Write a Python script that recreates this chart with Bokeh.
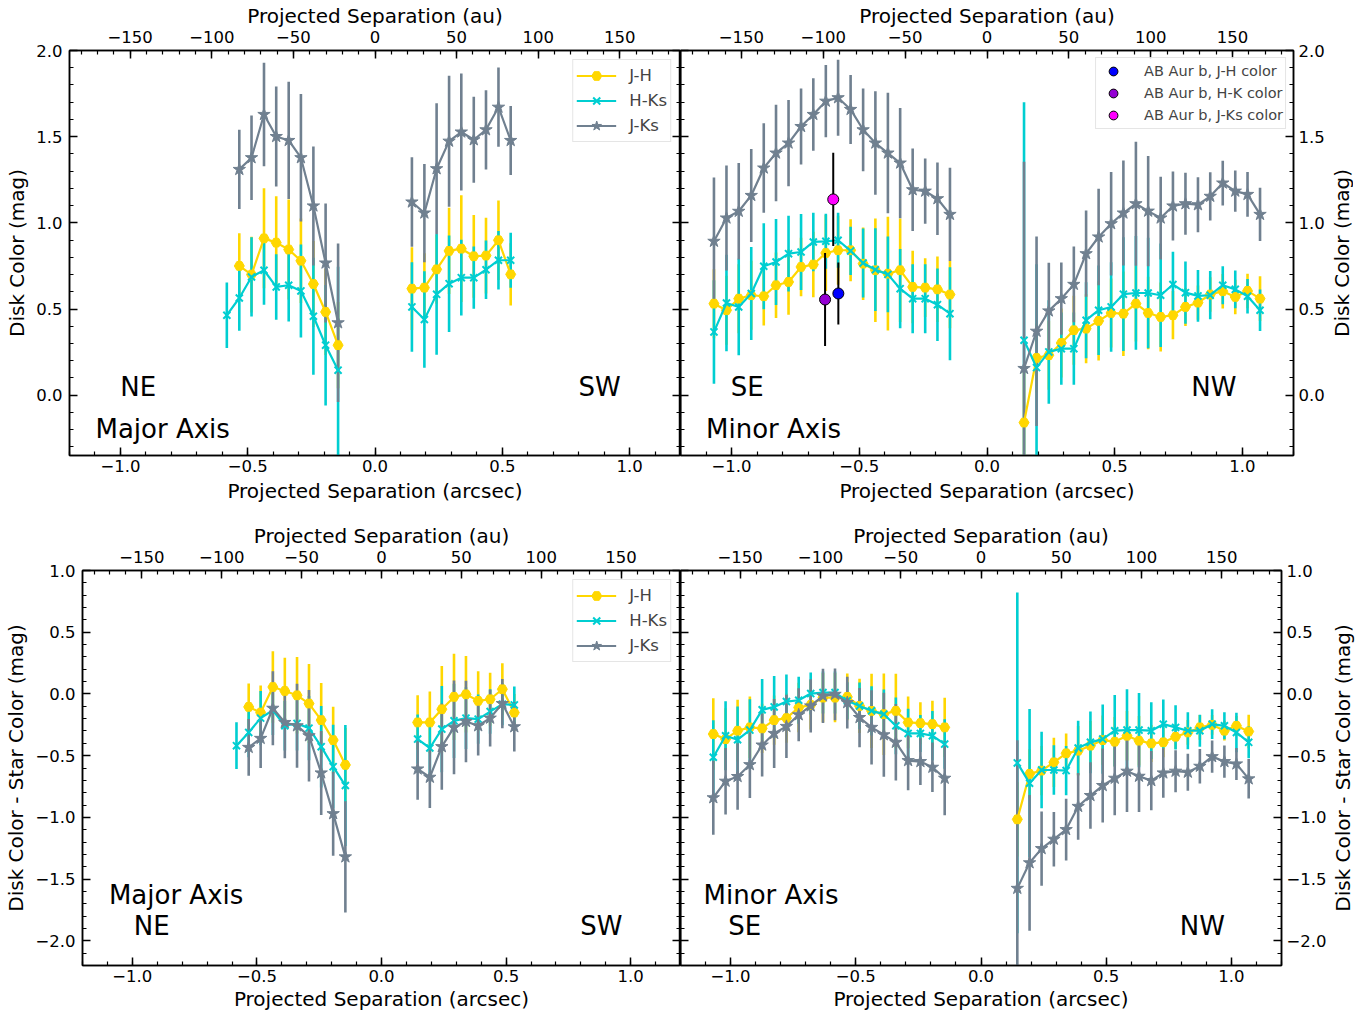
import math
from bokeh.plotting import figure
from bokeh.models import (Range1d, LinearAxis, SingleIntervalTicker, FixedTicker, CustomJSTickFormatter,
                          ColumnDataSource, Label, Legend, LegendItem)
from bokeh.layouts import column, row
from bokeh.embed import file_html
from bokeh.resources import INLINE

FONT = "DejaVu Sans"
AU_PER_ARCSEC = 156.0
C_JH = "#FFD700"
C_HK = "#00CED1"
C_JK = "#708090"

# ---------------- positions (arcsec) ----------------
MAJ_NE_X = [-0.582, -0.533, -0.485, -0.436, -0.388, -0.339, -0.291, -0.242, -0.194, -0.145]
MAJ_SW_X = [0.145, 0.194, 0.242, 0.291, 0.339, 0.388, 0.436, 0.485, 0.533]
MIN_SE_X = [-1.069, -1.020, -0.972, -0.923, -0.874, -0.826, -0.777, -0.728, -0.680, -0.631,
            -0.583, -0.534, -0.485, -0.437, -0.388, -0.340, -0.291, -0.242, -0.194, -0.145]
MIN_NW_X = [0.145, 0.194, 0.242, 0.291, 0.340, 0.388, 0.437, 0.486, 0.534, 0.583,
            0.631, 0.680, 0.728, 0.777, 0.826, 0.874, 0.923, 0.972, 1.020, 1.069]

# ---------------- top-left: disk color, major axis ----------------
TL_JH_NE = [0.75, 0.70, 0.91, 0.885, 0.845, 0.78, 0.645, 0.483, 0.29]
TL_JH_NE_ERR = [0.19, 0.22, 0.29, 0.27, 0.29, 0.245, 0.25, 0.25, 0.25]
TL_HK_NE = [0.464, 0.564, 0.686, 0.725, 0.628, 0.638, 0.605, 0.458, 0.29, 0.145]
TL_HK_NE_ERR = [0.19, 0.19, 0.23, 0.2, 0.19, 0.21, 0.27, 0.34, 0.35, 0.6]
TL_JK_NE = [1.31, 1.378, 1.629, 1.501, 1.478, 1.378, 1.098, 0.767, 0.42]
TL_JK_NE_ERR = [0.23, 0.245, 0.30, 0.29, 0.34, 0.37, 0.345, 0.345, 0.46]
TL_JH_SW = [0.618, 0.624, 0.73, 0.837, 0.85, 0.806, 0.81, 0.899, 0.701]
TL_JH_SW_ERR = [0.24, 0.2, 0.2, 0.25, 0.31, 0.24, 0.22, 0.23, 0.18]
TL_HK_SW = [0.512, 0.439, 0.585, 0.647, 0.682, 0.682, 0.728, 0.783, 0.783]
TL_HK_SW_ERR = [0.26, 0.28, 0.35, 0.28, 0.22, 0.18, 0.17, 0.17, 0.16]
TL_JK_SW = [1.121, 1.057, 1.314, 1.474, 1.527, 1.482, 1.54, 1.671, 1.478]
TL_JK_SW_ERR = [0.26, 0.285, 0.38, 0.38, 0.34, 0.25, 0.23, 0.23, 0.2]

# ---------------- top-right: disk color, minor axis ----------------
TR_JH_SE = [0.531, 0.493, 0.56, 0.58, 0.574, 0.638, 0.657, 0.744, 0.758, 0.825,
            0.841, 0.841, 0.763, 0.725, 0.705, 0.725, 0.628, 0.624, 0.614, 0.584]
TR_JH_SE_ERR = [0.2, 0.2, 0.2, 0.2, 0.17, 0.19, 0.19, 0.17, 0.19, 0.22,
                0.2, 0.18, 0.21, 0.3, 0.33, 0.3, 0.21, 0.17, 0.19, 0.195]
TR_HK_SE = [0.367, 0.535, 0.512, 0.59, 0.748, 0.773, 0.821, 0.831, 0.889, 0.893,
            0.899, 0.837, 0.767, 0.728, 0.701, 0.618, 0.56, 0.56, 0.525, 0.473]
TR_HK_SE_ERR = [0.3, 0.28, 0.28, 0.27, 0.25, 0.25, 0.22, 0.22, 0.17, 0.16,
                0.16, 0.14, 0.2, 0.24, 0.22, 0.23, 0.2, 0.2, 0.21, 0.27]
TR_JK_SE = [0.893, 1.028, 1.067, 1.159, 1.318, 1.405, 1.463, 1.559, 1.629, 1.706,
            1.726, 1.658, 1.54, 1.463, 1.405, 1.347, 1.192, 1.184, 1.14, 1.049]
TR_JK_SE_ERR = [0.37, 0.305, 0.28, 0.27, 0.26, 0.28, 0.25, 0.22, 0.21, 0.21,
                0.22, 0.2, 0.24, 0.3, 0.35, 0.32, 0.24, 0.19, 0.21, 0.27]
TR_JH_NW = [-0.159, 0.216, 0.232, 0.303, 0.377, 0.386, 0.431, 0.477, 0.473, 0.531,
            0.477, 0.454, 0.464, 0.512, 0.537, 0.584, 0.603, 0.57, 0.605, 0.56]
TR_JH_NW_ERR = [0.3, 0.2, 0.2, 0.2, 0.2, 0.2, 0.23, 0.2, 0.245, 0.22,
                0.21, 0.2, 0.14, 0.11, 0.1, 0.1, 0.1, 0.1, 0.1, 0.13]
TR_HK_NW = [0.319, 0.16, 0.251, 0.27, 0.27, 0.435, 0.493, 0.512, 0.586, 0.593,
            0.593, 0.58, 0.642, 0.595, 0.576, 0.58, 0.638, 0.614, 0.574, 0.493]
TR_HK_NW_ERR = [1.38, 0.6, 0.3, 0.21, 0.21, 0.22, 0.26, 0.26, 0.33, 0.33,
                0.32, 0.3, 0.19, 0.18, 0.15, 0.14, 0.11, 0.11, 0.1, 0.12]
TR_JK_NW = [0.155, 0.371, 0.489, 0.56, 0.643, 0.821, 0.918, 0.995, 1.057, 1.111,
            1.068, 1.028, 1.098, 1.111, 1.105, 1.154, 1.231, 1.184, 1.165, 1.049]
TR_JK_NW_ERR = [1.2, 0.55, 0.28, 0.21, 0.22, 0.25, 0.28, 0.3, 0.305, 0.36,
                0.32, 0.24, 0.2, 0.18, 0.16, 0.14, 0.13, 0.12, 0.13, 0.155]

# AB Aur b colors
ABB_LABELS = ["AB Aur b, J-H color", "AB Aur b, H-K color", "AB Aur b, J-Ks color"]
ABB_COLORS = ["#0000FF", "#9400D3", "#FF00FF"]
ABB_X = [-0.582, -0.634, -0.602]
ABB_Y = [0.59, 0.555, 1.136]
ABB_ERR = [0.18, 0.27, 0.27]

# ---------------- bottom-left: disk - star color, major axis ----------------
BL_JH_NE = [-0.105, -0.151, 0.056, 0.024, -0.011, -0.078, -0.212, -0.374, -0.575]
BL_JH_NE_ERR = [0.19, 0.22, 0.29, 0.27, 0.31, 0.32, 0.30, 0.27, 0.3]
BL_HK_NE = [-0.419, -0.312, -0.196, -0.132, -0.258, -0.239, -0.277, -0.427, -0.589, -0.742]
BL_HK_NE_ERR = [0.19, 0.2, 0.22, 0.2, 0.2, 0.22, 0.26, 0.33, 0.34, 0.49]
BL_JK_NE = [-0.433, -0.36, -0.116, -0.231, -0.258, -0.339, -0.64, -0.97, -1.32]
BL_JK_NE_ERR = [0.23, 0.24, 0.3, 0.29, 0.34, 0.37, 0.34, 0.34, 0.45]
BL_JH_SW = [-0.231, -0.231, -0.124, -0.024, -0.003, -0.056, -0.043, 0.038, -0.151]
BL_JH_SW_ERR = [0.22, 0.25, 0.35, 0.35, 0.31, 0.24, 0.215, 0.21, 0.15]
BL_HK_SW = [-0.366, -0.438, -0.285, -0.218, -0.196, -0.204, -0.143, -0.083, -0.089]
BL_HK_SW_ERR = [0.2, 0.23, 0.35, 0.3, 0.25, 0.2, 0.18, 0.17, 0.15]
BL_JK_SW = [-0.608, -0.675, -0.427, -0.271, -0.223, -0.258, -0.196, -0.078, -0.266]
BL_JK_SW_ERR = [0.25, 0.25, 0.35, 0.38, 0.33, 0.24, 0.23, 0.2, 0.2]

# ---------------- bottom-right: disk - star color, minor axis ----------------
BR_JH_SE = [-0.325, -0.366, -0.298, -0.271, -0.279, -0.212, -0.196, -0.11, -0.089, -0.03,
            -0.03, -0.024, -0.097, -0.137, -0.164, -0.137, -0.231, -0.237, -0.245, -0.271]
BR_JH_SE_ERR = [0.29, 0.25, 0.25, 0.25, 0.2, 0.2, 0.2, 0.2, 0.2, 0.2,
                0.2, 0.19, 0.22, 0.3, 0.33, 0.3, 0.21, 0.17, 0.19, 0.24]
BR_HK_SE = [-0.513, -0.339, -0.371, -0.293, -0.129, -0.105, -0.062, -0.051, 0.003, 0.011,
            0.011, -0.056, -0.097, -0.137, -0.164, -0.258, -0.32, -0.32, -0.339, -0.406]
BR_HK_SE_ERR = [0.3, 0.28, 0.27, 0.25, 0.25, 0.25, 0.22, 0.19, 0.17, 0.17,
                0.17, 0.15, 0.19, 0.2, 0.2, 0.23, 0.2, 0.15, 0.2, 0.2]
BR_JK_SE = [-0.841, -0.707, -0.669, -0.573, -0.414, -0.32, -0.263, -0.169, -0.097, -0.016,
            -0.003, -0.07, -0.191, -0.271, -0.331, -0.392, -0.54, -0.548, -0.594, -0.683]
BR_JK_SE_ERR = [0.3, 0.27, 0.27, 0.27, 0.255, 0.28, 0.256, 0.215, 0.215, 0.22,
                0.21, 0.21, 0.24, 0.3, 0.34, 0.31, 0.24, 0.19, 0.2, 0.3]
BR_JH_NW = [-1.016, -0.648, -0.621, -0.554, -0.481, -0.46, -0.419, -0.374, -0.387, -0.339,
            -0.379, -0.401, -0.392, -0.347, -0.312, -0.271, -0.25, -0.298, -0.258, -0.304]
BR_JH_NW_ERR = [0.3, 0.2, 0.2, 0.2, 0.16, 0.2, 0.2, 0.2, 0.2, 0.2,
                0.2, 0.15, 0.12, 0.1, 0.1, 0.1, 0.08, 0.08, 0.08, 0.135]
BR_HK_NW = [-0.559, -0.723, -0.616, -0.616, -0.621, -0.438, -0.392, -0.366, -0.298, -0.293,
            -0.293, -0.298, -0.245, -0.271, -0.298, -0.298, -0.245, -0.258, -0.312, -0.392]
BR_HK_NW_ERR = [1.38, 0.6, 0.31, 0.2, 0.2, 0.22, 0.25, 0.28, 0.29, 0.33,
                0.3, 0.23, 0.2, 0.18, 0.15, 0.13, 0.12, 0.11, 0.16, 0.13]
BR_JK_NW = [-1.575, -1.368, -1.253, -1.177, -1.099, -0.911, -0.823, -0.742, -0.683, -0.626,
            -0.667, -0.702, -0.64, -0.626, -0.634, -0.586, -0.508, -0.548, -0.567, -0.688]
BR_JK_NW_ERR = [1.2, 0.55, 0.3, 0.22, 0.25, 0.27, 0.27, 0.3, 0.3, 0.33,
                0.29, 0.24, 0.2, 0.17, 0.15, 0.14, 0.13, 0.13, 0.13, 0.16]

fmt1 = CustomJSTickFormatter(code="""
if (Math.abs(tick) < 1e-9) { return '0.0'; }
return tick.toFixed(1).replace('-', '\\u2212');
""")
fmt0 = CustomJSTickFormatter(code="""
if (Math.abs(tick) < 1e-9) { return '0'; }
return tick.toFixed(0).replace('-', '\\u2212');
""")


def style_ticks(ax):
    ax.major_tick_in = 8
    ax.major_tick_out = 0
    ax.minor_tick_in = 4
    ax.minor_tick_out = 0
    ax.major_tick_line_width = 1.5
    ax.minor_tick_line_width = 1.2
    ax.major_tick_line_color = "black"
    ax.minor_tick_line_color = "black"
    ax.axis_line_color = "black"
    ax.axis_line_width = 1.5


def style_axis(ax, title, s1, s2):
    style_ticks(ax)
    ax.major_label_text_font = FONT
    ax.major_label_text_font_size = "16.5px"
    ax.major_label_text_color = "black"
    ax.major_label_standoff = s1
    if title:
        ax.axis_label = title
        ax.axis_label_text_font = FONT
        ax.axis_label_text_font_size = "20px"
        ax.axis_label_text_font_style = "normal"
        ax.axis_label_text_color = "black"
        ax.axis_label_standoff = s2


def inner_axes(p, side, lo, hi):
    """Unlabelled inward ticks on the shared inner edge (majors every 0.5, minors every 0.1)."""
    k0 = int(math.ceil(lo * 10 - 1e-9))
    k1 = int(math.floor(hi * 10 + 1e-9))
    minors = [k / 10 for k in range(k0, k1 + 1) if k % 5 != 0]
    majors = [k / 10 for k in range(k0, k1 + 1) if k % 5 == 0]
    for ticks, ln, lw in ((majors, 8, 1.5), (minors, 4, 1.2)):
        ax = LinearAxis(ticker=FixedTicker(ticks=[], minor_ticks=ticks))
        style_ticks(ax)
        ax.minor_tick_in = ln
        ax.minor_tick_line_width = lw
        ax.major_label_standoff = 0
        ax.axis_label_standoff = 0
        p.add_layout(ax, side)


def make_panel(width, height, yr, borders, ylabel, yside, xlab_standoff):
    l, r, t, b = borders
    p = figure(width=width, height=height, x_range=Range1d(-1.2, 1.2), y_range=Range1d(*yr),
               output_backend="svg", toolbar_location=None,
               x_axis_location=None, y_axis_location=None,
               min_border_left=l, min_border_right=r, min_border_top=t, min_border_bottom=b)
    p.extra_x_ranges = {"au": Range1d(-1.2 * AU_PER_ARCSEC, 1.2 * AU_PER_ARCSEC)}
    p.outline_line_color = "black"
    p.outline_line_width = 1.5
    p.grid.visible = False
    bottom = LinearAxis(ticker=SingleIntervalTicker(interval=0.5, num_minor_ticks=5), formatter=fmt1)
    style_axis(bottom, "Projected Separation (arcsec)", 4, xlab_standoff)
    p.add_layout(bottom, "below")
    top = LinearAxis(x_range_name="au", ticker=SingleIntervalTicker(interval=50, num_minor_ticks=5),
                     formatter=fmt0)
    style_axis(top, "Projected Separation (au)", 8, 0)
    p.add_layout(top, "above")
    lab = LinearAxis(ticker=SingleIntervalTicker(interval=0.5, num_minor_ticks=5), formatter=fmt1)
    if yside == "left":
        style_axis(lab, ylabel, 7, 4)
        p.add_layout(lab, "left")
        inner_axes(p, "right", yr[0], yr[1])
    else:
        style_axis(lab, None, 5, 0)
        p.add_layout(lab, "right")
        inner_axes(p, "left", yr[0], yr[1])
    return p


def side_title(text, width, height, y_offset):
    """Narrow strip holding a right-hand axis title that reads bottom-to-top."""
    t = figure(width=width, height=height, x_range=Range1d(0, 1), y_range=Range1d(0, 1),
               output_backend="svg", toolbar_location=None,
               x_axis_location=None, y_axis_location=None, min_border=0)
    t.outline_line_color = None
    t.grid.visible = False
    t.add_layout(Label(x=0.5, y=0.5, y_offset=y_offset, text=text, angle=math.pi / 2,
                       text_font=FONT, text_font_size="20px", text_align="center",
                       text_baseline="middle", text_color="black"))
    return t


MARKERS = {"jh": ("hex", 10, C_JH), "hk": ("x", 10, C_HK), "jk": ("star", 13, C_JK)}


def draw_group(p, groups):
    """groups: list of (key, x, y, err); draws all bars first, then lines and markers."""
    for key, x, y, err in groups:
        color = MARKERS[key][2]
        src = ColumnDataSource(dict(x=x, lo=[a - e for a, e in zip(y, err)],
                                    hi=[a + e for a, e in zip(y, err)]))
        p.segment(x0="x", y0="lo", x1="x", y1="hi", source=src, line_color=color, line_width=2.6)
    rends = {}
    for key, x, y, err in groups:
        marker, size, color = MARKERS[key]
        src = ColumnDataSource(dict(x=x, y=y))
        lr = p.line("x", "y", source=src, line_color=color, line_width=2.2)
        sr = p.scatter("x", "y", source=src, marker=marker, size=size, fill_color=color,
                       line_color=color, line_width=2 if marker == "x" else 1)
        rends.setdefault(key, (lr, sr))
    return rends


def add_text(p, txt, x, y, align="center"):
    p.add_layout(Label(x=x, y=y, text=txt, text_font=FONT, text_font_size="26px",
                       text_align=align, text_baseline="middle", text_color="black"))


def series_legend(p, rends):
    items = [LegendItem(label="J-H", renderers=list(rends["jh"])),
             LegendItem(label="H-Ks", renderers=list(rends["hk"])),
             LegendItem(label="J-Ks", renderers=list(rends["jk"]))]
    lg = Legend(items=items, location="top_right", margin=9, padding=3, spacing=0,
                glyph_width=40, glyph_height=25, label_height=25, label_standoff=13,
                label_text_font=FONT, label_text_font_size="16.5px",
                border_line_color="#cccccc", border_line_width=1,
                background_fill_alpha=0.8)
    p.add_layout(lg)


# ---------------- top row ----------------
p1 = make_panel(680, 506, (-0.35, 2.0), (69, 0, 50, 51), "Disk Color (mag)", "left", 4)
r1 = draw_group(p1, [("jh", MAJ_NE_X[1:], TL_JH_NE, TL_JH_NE_ERR),
                     ("jh", MAJ_SW_X, TL_JH_SW, TL_JH_SW_ERR),
                     ("hk", MAJ_NE_X, TL_HK_NE, TL_HK_NE_ERR),
                     ("hk", MAJ_SW_X, TL_HK_SW, TL_HK_SW_ERR),
                     ("jk", MAJ_NE_X[1:], TL_JK_NE, TL_JK_NE_ERR),
                     ("jk", MAJ_SW_X, TL_JK_SW, TL_JK_SW_ERR)])
series_legend(p1, r1)
add_text(p1, "NE", -0.93, 0.05)
add_text(p1, "SW", 0.882, 0.05)
add_text(p1, "Major Axis", -1.098, -0.197, "left")

p2 = make_panel(649, 506, (-0.35, 2.0), (0, 36, 50, 51), "Disk Color (mag)", "right", 4)
draw_group(p2, [("jh", MIN_SE_X, TR_JH_SE, TR_JH_SE_ERR),
                ("jh", MIN_NW_X, TR_JH_NW, TR_JH_NW_ERR),
                ("hk", MIN_SE_X, TR_HK_SE, TR_HK_SE_ERR),
                ("hk", MIN_NW_X, TR_HK_NW, TR_HK_NW_ERR),
                ("jk", MIN_SE_X, TR_JK_SE, TR_JK_SE_ERR),
                ("jk", MIN_NW_X, TR_JK_NW, TR_JK_NW_ERR)])
abb_items = []
for i in range(len(ABB_X)):
    src = ColumnDataSource(dict(x=[ABB_X[i]], y=[ABB_Y[i]],
                                lo=[ABB_Y[i] - ABB_ERR[i]], hi=[ABB_Y[i] + ABB_ERR[i]]))
    p2.segment(x0="x", y0="lo", x1="x", y1="hi", source=src, line_color="black", line_width=2)
    sr = p2.scatter("x", "y", source=src, marker="circle", size=11, fill_color=ABB_COLORS[i],
                    line_color="black", line_width=1)
    abb_items.append(LegendItem(label=ABB_LABELS[i], renderers=[sr]))
lg2 = Legend(items=abb_items, location="top_right", margin=7, padding=2, spacing=0,
             glyph_width=30, glyph_height=22, label_height=22, label_standoff=16,
             label_text_font=FONT, label_text_font_size="14.5px",
             border_line_color="#cccccc", border_line_width=1, background_fill_alpha=0.8)
p2.add_layout(lg2)
add_text(p2, "SE", -0.939, 0.05)
add_text(p2, "NW", 0.888, 0.05)
add_text(p2, "Minor Axis", -1.100, -0.197, "left")
t2 = side_title("Disk Color (mag)", 24, 506, 0)

# ---------------- bottom row ----------------
p3 = make_panel(680, 508, (-2.2, 1.0), (82, 0, 64, 49), "Disk Color - Star Color (mag)", "left", 2)
r3 = draw_group(p3, [("jh", MAJ_NE_X[1:], BL_JH_NE, BL_JH_NE_ERR),
                     ("jh", MAJ_SW_X, BL_JH_SW, BL_JH_SW_ERR),
                     ("hk", MAJ_NE_X, BL_HK_NE, BL_HK_NE_ERR),
                     ("hk", MAJ_SW_X, BL_HK_SW, BL_HK_SW_ERR),
                     ("jk", MAJ_NE_X[1:], BL_JK_NE, BL_JK_NE_ERR),
                     ("jk", MAJ_SW_X, BL_JK_SW, BL_JK_SW_ERR)])
series_legend(p3, r3)
add_text(p3, "Major Axis", -1.094, -1.629, "left")
add_text(p3, "NE", -0.922, -1.879)
add_text(p3, "SW", 0.882, -1.879)

p4 = make_panel(649, 508, (-2.2, 1.0), (0, 48, 64, 49), "Disk Color - Star Color (mag)", "right", 2)
draw_group(p4, [("jh", MIN_SE_X, BR_JH_SE, BR_JH_SE_ERR),
                ("jh", MIN_NW_X, BR_JH_NW, BR_JH_NW_ERR),
                ("hk", MIN_SE_X, BR_HK_SE, BR_HK_SE_ERR),
                ("hk", MIN_NW_X, BR_HK_NW, BR_HK_NW_ERR),
                ("jk", MIN_SE_X, BR_JK_SE, BR_JK_SE_ERR),
                ("jk", MIN_NW_X, BR_JK_NW, BR_JK_NW_ERR)])
add_text(p4, "Minor Axis", -1.108, -1.629, "left")
add_text(p4, "SE", -0.944, -1.879)
add_text(p4, "NW", 0.884, -1.879)
t4 = side_title("Disk Color - Star Color (mag)", 26, 508, 0)

layout = column(row(p1, p2, t2), row(p3, p4, t4))
open("out.html", "w").write(file_html(layout, INLINE))
